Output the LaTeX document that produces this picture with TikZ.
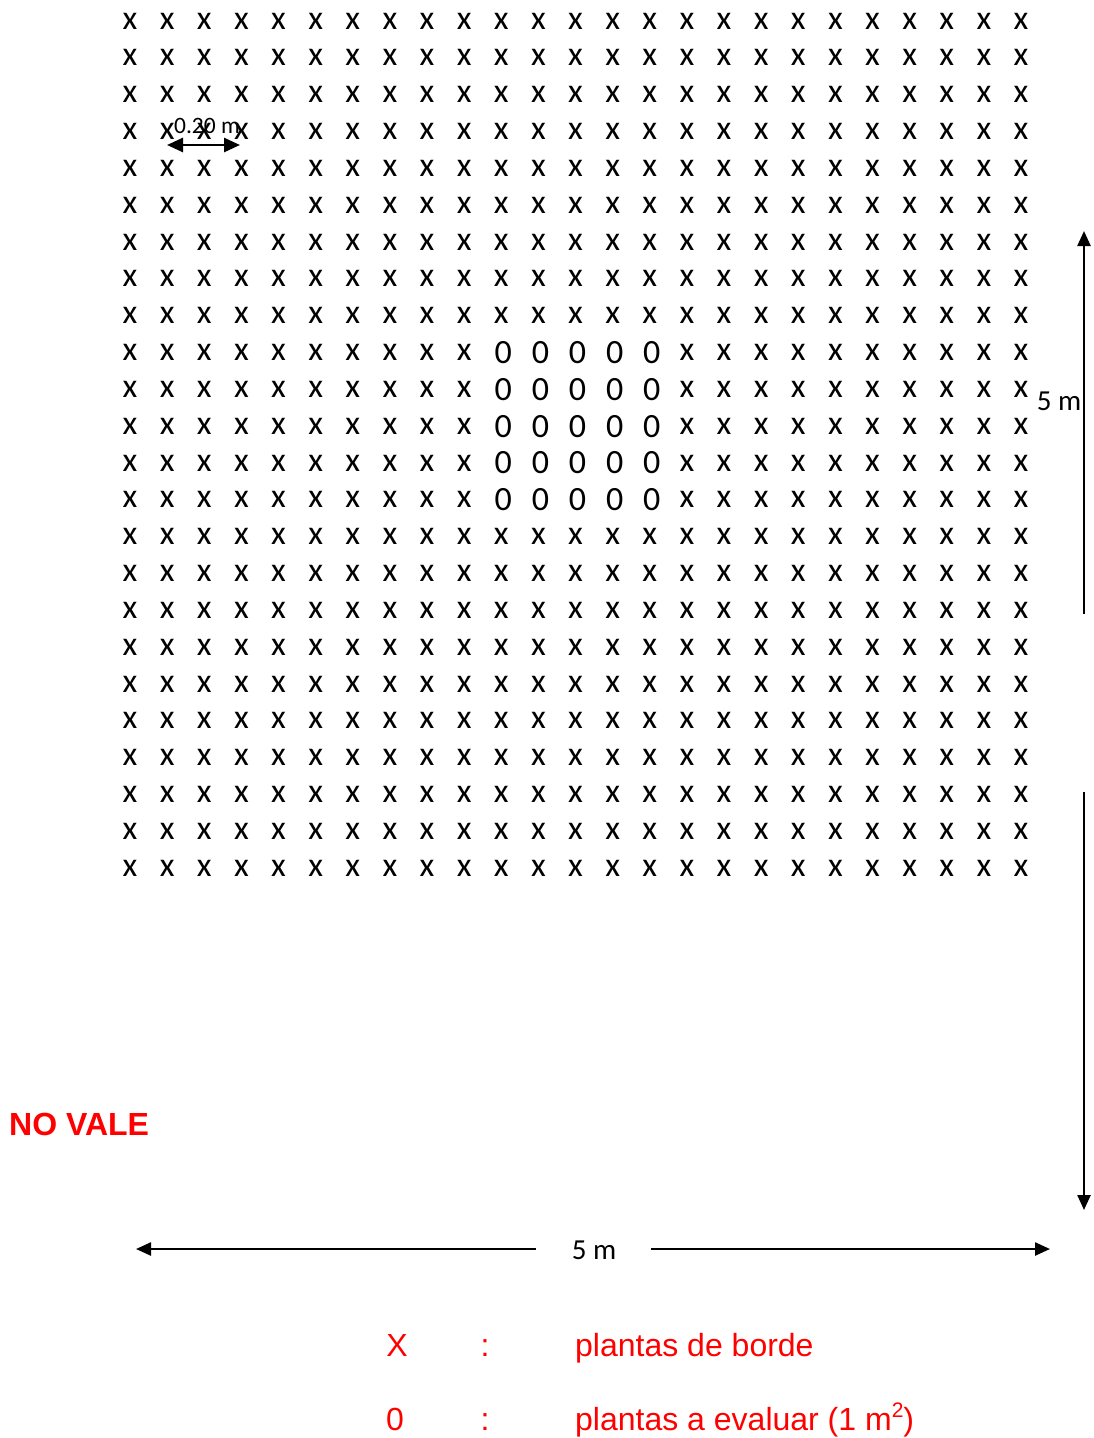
\documentclass[tikz,border=0pt]{standalone}
\usepackage{fontspec}
\setmainfont{Carlito}
\newfontfamily\arialfont{Liberation Sans}
\usetikzlibrary{arrows.meta}
\begin{document}
\begin{tikzpicture}[x=1pt,y=-1pt,
  plant/.style={inner sep=0pt,font=\fontsize{34}{36}\selectfont},
  dimline/.style={line width=2.4pt,-{Triangle[length=15pt,width=13pt]}},
  smalldim/.style={line width=2.6pt,{Triangle[length=16pt,width=14pt]}-{Triangle[length=16pt,width=14pt]}},
  dimlabel/.style={inner sep=0pt,font=\fontsize{29}{31}\selectfont},
  redtext/.style={inner sep=0pt,text=red,font=\arialfont\fontsize{32}{35}\selectfont}
]
\useasboundingbox (0,0) rectangle (1094,1438);
% grid of plants
\foreach \j in {0,...,23}{
  \foreach \i in {0,...,24}{
    \pgfmathtruncatemacro\inner{and(and(\j>8,\j<14),and(\i>9,\i<15))}
    \ifnum\inner=1
      \node[plant] (p-\i-\j) at ({132+37.125*\i},{21+36.83*\j}) {0};
    \else
      \node[plant] (p-\i-\j) at ({130+37.125*\i},{21+36.83*\j}) {x};
    \fi
  }
}
% 0.20 m spacing
\coordinate (sA) at (167,145);
\coordinate (sB) at (240,145);
\draw[smalldim] (sA) -- (sB);
\node[inner sep=0pt,font=\fontsize{23.5}{25}\selectfont] (slab) at (207,126) {0.20 m};
% vertical 5 m
\coordinate (vAb) at (1084,614);
\coordinate (vAt) at (1084,231);
\coordinate (vBt) at (1084,792);
\coordinate (vBb) at (1084,1210);
\draw[dimline] (vAb) -- (vAt);
\draw[dimline] (vBt) -- (vBb);
\node[dimlabel] (vlab) at (1059,401) {5 m};
% horizontal 5 m
\coordinate (hAr) at (536,1249);
\coordinate (hAl) at (136,1249);
\coordinate (hBl) at (651,1249);
\coordinate (hBr) at (1050,1249);
\draw[dimline] (hAr) -- (hAl);
\draw[dimline] (hBl) -- (hBr);
\node[dimlabel] (hlab) at (594,1250) {5 m};
% NO VALE
\node[inner sep=0pt,anchor=west,text=red,font=\arialfont\bfseries\fontsize{32}{34}\selectfont] (novale) at (9,1124) {NO VALE};
% legend
\node[redtext,anchor=base] (lx) at (397,1356) {X};
\node[redtext,anchor=base] (lxc) at (485,1356) {:};
\node[redtext,anchor=base west] (lxt) at (575,1356) {plantas de borde};
\node[redtext,anchor=base] (lo) at (395,1430) {0};
\node[redtext,anchor=base] (loc) at (485,1430) {:};
\node[redtext,anchor=base west] (lot) at (575,1430) {plantas a evaluar (1 m\raisebox{13pt}{\fontsize{21}{21}\selectfont 2})};
\end{tikzpicture}
\end{document}
